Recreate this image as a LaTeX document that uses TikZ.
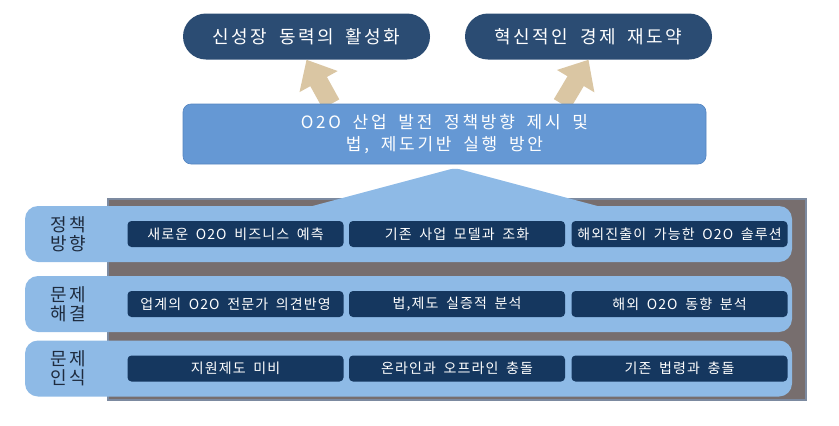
\documentclass[tikz,border=0pt]{standalone}
\usepackage{fontspec}
\setmainfont[WordSpace=1.8]{Noto Sans CJK KR}
\usetikzlibrary{arrows.meta, positioning}
\definecolor{pillnavy}{HTML}{2B4C73}
\definecolor{arrowtan}{HTML}{DAC6A3}
\definecolor{midblue}{HTML}{6598D4}
\definecolor{midedge}{HTML}{5585C0}
\definecolor{bandblue}{HTML}{8EBAE6}
\definecolor{cellnavy}{HTML}{15375F}
\definecolor{backgray}{HTML}{776E6E}
\definecolor{backedge}{HTML}{7C8AA0}
\definecolor{labelink}{HTML}{1E2B3E}
\tikzset{
    goal/.style={rectangle, rounded corners=23pt, fill=pillnavy, text=white,
        minimum width=247pt, minimum height=46pt,
        font=\fontsize{18}{20}\selectfont\addfontfeatures{LetterSpace=14}},
    plan/.style={rectangle, rounded corners=8pt, fill=midblue, draw=midedge, line width=.6pt,
        text=white, minimum width=523pt, minimum height=60pt, align=center,
        font=\fontsize{17}{22}\selectfont\addfontfeatures{LetterSpace=16}},
    band/.style={rectangle, rounded corners=13pt, fill=bandblue,
        minimum width=767pt, minimum height=56pt},
    rowlabel/.style={text=labelink, align=center,
        font=\fontsize{18}{19}\selectfont\addfontfeatures{LetterSpace=12}},
    cell/.style={rectangle, rounded corners=4pt, fill=cellnavy, text=white,
        minimum width=216pt, minimum height=26pt, inner sep=0pt,
        font=\fontsize{14}{15}\selectfont\addfontfeatures{LetterSpace=8}},
    uparrow/.style={draw=arrowtan, line width=19pt,
        -{Triangle[width=42pt,length=25pt]}},
}

\begin{document}
\begin{tikzpicture}[x=1pt,y=-1pt]
                      \useasboundingbox (0,0) rectangle (839,426);
                      \fill[backgray,draw=backedge,line width=1.5pt](108,199) rectangle (806,400);

                      \node[goal] (growth) at (306.5,36.5) {신성장 동력의 활성화};
                      \node[goal] (leap) at (588.5,36.5) {혁신적인 경제 재도약};

                      \coordinate (leftfoot) at (331,104);
                      \coordinate (rightfoot) at (562,104);
                      \draw[uparrow](leftfoot)--(growth.south);
                      \draw[uparrow](rightfoot)--(leap.south);

                      \node[plan] (policy) at (444.5,134) {O2O 산업 발전 정책방향 제시 및\\법, 제도기반 실행 방안};

                      \node[band] (dirband) at (408.5,234) {};
                      \node[band] (solveband) at (408.5,304) {};
                      \node[band] (seeband) at (408.5,368.5) {};
                      \fill[bandblue,rounded corners=5pt](290,212)--(455,168)--(620,212)--cycle;

                      \node[rowlabel] at (68,234) {정책\\방향};
                      \node[rowlabel] at (68,304) {문제\\해결};
                      \node[rowlabel] at (68,368.5) {문제\\인식};

                      \node[cell] (d1) at (235.5,234) {새로운 O2O 비즈니스 예측};
                      \node[cell] (d2) at (457,234) {기존 사업 모델과 조화};
                      \node[cell] (d3) at (679.5,234) {해외진출이 가능한 O2O 솔루션};

                      \node[cell] (s1) at (235.5,304) {업계의 O2O 전문가 의견반영};
                      \node[cell] (s2) at (457,304) {법,제도 실증적 분석};
                      \node[cell] (s3) at (679.5,304) {해외 O2O 동향 분석};

                      \node[cell] (r1) at (235.5,368.5) {지원제도 미비};
                      \node[cell] (r2) at (457,368.5) {온라인과 오프라인 충돌};
                      \node[cell] (r3) at (679.5,368.5) {기존 법령과 충돌};
             \end{tikzpicture}
\end{document}
